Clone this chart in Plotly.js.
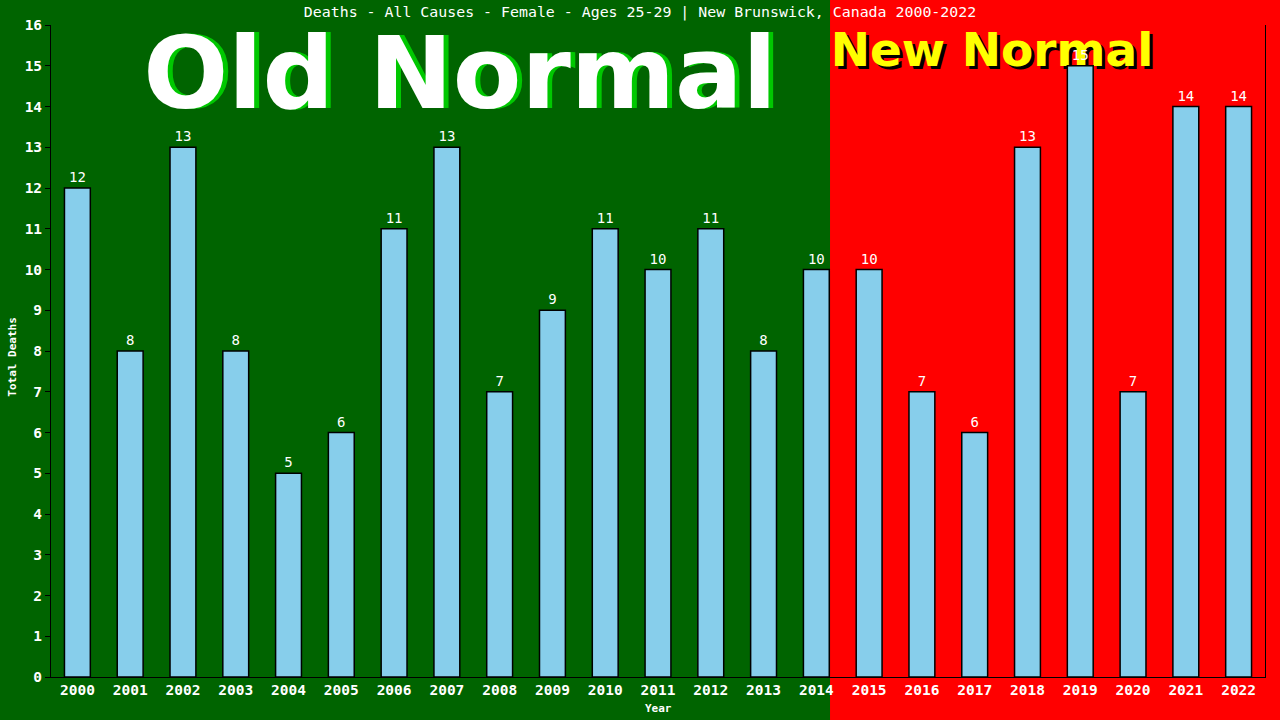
<!DOCTYPE html>
<html>
<head>
<meta charset="utf-8">
<script src="https://cdn.plot.ly/plotly-3.0.1.min.js"></script>
<style>html,body{margin:0;padding:0;background:#006400;}#chart{width:1280px;height:720px;}</style>
</head>
<body>
<div id="chart"></div>
<script>
const years = ['2000','2001','2002','2003','2004','2005','2006','2007','2008','2009','2010','2011','2012','2013','2014','2015','2016','2017','2018','2019','2020','2021','2022'];
const deaths = [12,8,13,8,5,6,11,13,7,9,11,10,11,8,10,10,7,6,13,15,7,14,14];
const yTicks = [0,1,2,3,4,5,6,7,8,9,10,11,12,13,14,15,16];
const titleText = 'Deaths - All Causes - Female - Ages 25-29 | New Brunswick, Canada 2000-2022';
const oldLabel = 'Old Normal';
const newLabel = 'New Normal';

const mono = 'DejaVu Sans Mono, monospace';
const bigFont = 'DejaVu Sans, sans-serif';

const traces = [
  // background labels on hidden primary axes (drawn beneath the overlay bars)
  {type:'scatter', mode:'text', x:[0.341], y:[0.9103], text:[oldLabel], textposition:'middle center',
   textfont:{family:bigFont, size:100, color:'#00C800', weight:'bold'}, hoverinfo:'skip', showlegend:false, cliponaxis:false, xaxis:'x', yaxis:'y'},
  {type:'scatter', mode:'text', x:[0.3369], y:[0.9103], text:[oldLabel], textposition:'middle center',
   textfont:{family:bigFont, size:100, color:'#FFFFFF', weight:'bold'}, hoverinfo:'skip', showlegend:false, cliponaxis:false, xaxis:'x', yaxis:'y'},
  {type:'scatter', mode:'text', x:[0.7776], y:[0.9502], text:[newLabel], textposition:'middle center',
   textfont:{family:bigFont, size:47, color:'#000000', weight:'bold'}, hoverinfo:'skip', showlegend:false, cliponaxis:false, xaxis:'x', yaxis:'y'},
  {type:'scatter', mode:'text', x:[0.7751], y:[0.9548], text:[newLabel], textposition:'middle center',
   textfont:{family:bigFont, size:47, color:'#FFFF00', weight:'bold'}, hoverinfo:'skip', showlegend:false, cliponaxis:false, xaxis:'x', yaxis:'y'},
  // bars
  {type:'bar', x:years, y:deaths, text:deaths.map(String), textposition:'outside', cliponaxis:false,
   textfont:{family:mono, size:14, color:'#FFFFFF'},
   marker:{color:'#87CEEB', line:{color:'#000000', width:1.5}},
   width:0.49, xaxis:'x2', yaxis:'y2', showlegend:false, hoverinfo:'x+y'}
];

const layout = {
  width:1280, height:720,
  margin:{l:51, r:15, t:25, b:43},
  paper_bgcolor:'#006400',
  plot_bgcolor:'rgba(0,0,0,0)',
  showlegend:false,
  title:{text:titleText, x:0.5, xanchor:'center', y:0.983, yanchor:'middle', yref:'container',
         font:{family:mono, size:14.9, color:'#FFFFFF'}},
  xaxis:{range:[0,1], visible:false, fixedrange:true},
  yaxis:{range:[0,1], visible:false, fixedrange:true},
  xaxis2:{overlaying:'x', side:'bottom', type:'category', range:[-0.5,22.5],
          showline:true, linecolor:'#000000', linewidth:1, ticks:'', showgrid:false, zeroline:false,
          tickfont:{family:mono, size:14.5, color:'#FFFFFF', weight:'bold'}},
  yaxis2:{overlaying:'y', side:'left', range:[0,16], tickvals:yTicks, ticktext:yTicks.map(String),
          showline:true, mirror:true, linecolor:'#000000', linewidth:1,
          ticks:'outside', ticklen:5, tickcolor:'#000000', showgrid:false, zeroline:false,
          tickfont:{family:mono, size:14.5, color:'#FFFFFF', weight:'bold'}},
  shapes:[
    {type:'rect', xref:'paper', yref:'paper', x0:0.6417, x1:1.05, y0:-0.1, y1:1.1,
     fillcolor:'#FF0000', line:{width:0}, layer:'below'}
  ],
  annotations:[
    {text:'Total Deaths', xref:'paper', yref:'paper', x:-0.032, y:0.49, textangle:-90, showarrow:false,
     xanchor:'center', yanchor:'middle', font:{family:mono, size:11, color:'#FFFFFF', weight:'bold'}},
    {text:'Year', xref:'paper', yref:'paper', x:0.5, y:-0.049, showarrow:false,
     xanchor:'center', yanchor:'middle', font:{family:mono, size:11, color:'#FFFFFF', weight:'bold'}}
  ]
};

Plotly.newPlot('chart', traces, layout, {displayModeBar:false, staticPlot:true});
</script>
</body>
</html>
